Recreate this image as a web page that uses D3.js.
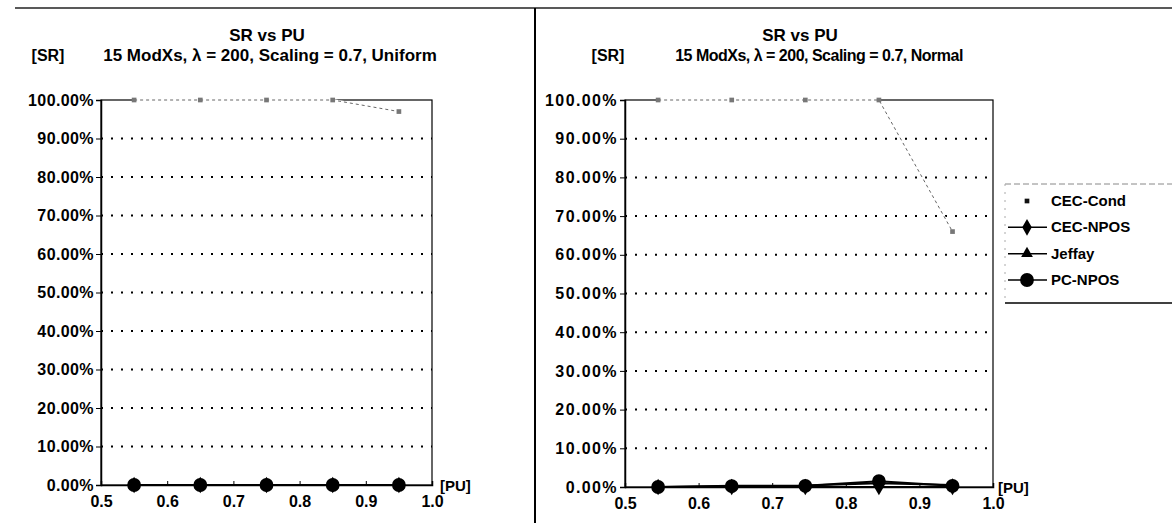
<!DOCTYPE html>
<html>
<head>
<meta charset="utf-8">
<script src="https://cdn.jsdelivr.net/npm/d3@7"></script>
<style>
  html, body { margin: 0; padding: 0; background: #fff; }
  svg { display: block; font-family: Arial, "Liberation Sans", sans-serif; font-weight: bold; }
</style>
</head>
<body>
<svg id="chart" width="1172" height="523"></svg>
<script>
// ---- data ----
const seriesNames = ["CEC-Cond", "CEC-NPOS", "Jeffay", "PC-NPOS"];
const xTicks = [0.5, 0.6, 0.7, 0.8, 0.9, 1.0];
const yTicks = [0, 10, 20, 30, 40, 50, 60, 70, 80, 90, 100];

// Uniform distribution run
const puUniform = [0.55, 0.65, 0.75, 0.85, 0.95];
const cecCondUniform = [100, 100, 100, 100, 97];
const cecNposUniform = [0, 0, 0, 0, 0];
const jeffayUniform = [0, 0, 0, 0, 0];
const pcNposUniform = [0, 0, 0, 0, 0];

// Normal distribution run
const puNormal = [0.545, 0.645, 0.745, 0.845, 0.945];
const cecCondNormal = [100, 100, 100, 100, 66];
const cecNposNormal = [0, 0, 0, 0, 0];
const jeffayNormal = [0, 0.3, 0.4, 1.0, 0.5];
const pcNposNormal = [0, 0.2, 0.3, 1.5, 0.3];

const svg = d3.select("#chart");
const FONT = "Arial, 'Liberation Sans', sans-serif";

// page frame: top rule and the divider between the two charts
svg.append("line").attr("x1", 15).attr("x2", 1172).attr("y1", 8).attr("y2", 8)
  .attr("stroke", "#222").attr("stroke-width", 1.5);
svg.append("line").attr("x1", 535).attr("x2", 535).attr("y1", 8).attr("y2", 523)
  .attr("stroke", "#000").attr("stroke-width", 2);

function markerPath(type, size) {
  const sym = {
    "square": d3.symbolSquare,
    "diamond": d3.symbolDiamond,
    "triangle": d3.symbolTriangle,
    "circle": d3.symbolCircle
  }[type];
  return d3.symbol().type(sym).size(size)();
}

const styles = {
  "CEC-Cond": { color: "#666", dash: "3,3", width: 1, marker: "square", size: 22, fill: "#777" },
  "CEC-NPOS": { color: "#000", dash: null, width: 2, marker: "diamond", size: 80, fill: "#000" },
  "Jeffay":   { color: "#000", dash: null, width: 2, marker: "triangle", size: 60, fill: "#000" },
  "PC-NPOS":  { color: "#000", dash: null, width: 2, marker: "circle", size: 150, fill: "#000" }
};

function drawPanel(p) {
  const g = svg.append("g");
  const x = d3.scaleLinear().domain([0.5, 1.0]).range([p.left, p.right]);
  const y = d3.scaleLinear().domain([0, 100]).range([p.bottom, p.top]);

  // titles
  g.append("text").attr("x", p.titleX).attr("y", 41).attr("text-anchor", "middle")
    .attr("font-size", 17).text("SR vs PU");
  g.append("text").attr("x", p.subX).attr("y", 61).attr("text-anchor", "middle")
    .attr("font-size", p.subSize).attr("letter-spacing", p.subSpacing).text(p.subtitle);
  g.append("text").attr("x", p.srX).attr("y", 61).attr("text-anchor", "middle")
    .attr("font-size", 16).text("[SR]");

  // dotted gridlines
  g.append("g").selectAll("line").data(yTicks.filter(v => v > 0 && v < 100)).join("line")
    .attr("x1", p.left).attr("x2", p.right)
    .attr("y1", d => y(d)).attr("y2", d => y(d))
    .attr("stroke", "#000").attr("stroke-width", 2).attr("stroke-dasharray", "2,8");

  // plot frame
  g.append("rect").attr("x", p.left).attr("y", p.top)
    .attr("width", p.right - p.left).attr("height", p.bottom - p.top)
    .attr("fill", "none").attr("stroke", "#000").attr("stroke-width", 1.2);

  // axes
  const yAxis = d3.axisLeft(y).tickValues(yTicks).tickSize(5)
    .tickFormat(d => d3.format(".2f")(d) + "%");
  const ya = g.append("g").attr("transform", `translate(${p.left},0)`).call(yAxis);
  ya.select(".domain").attr("stroke-width", 1.5);
  ya.selectAll("text").attr("font-size", p.ySize).attr("font-weight", "bold")
    .attr("letter-spacing", p.ySpacing)
    .attr("font-family", FONT).attr("x", -7).attr("fill", "#000");

  const xAxis = d3.axisBottom(x).tickValues(xTicks).tickSize(-4).tickPadding(11)
    .tickFormat(d3.format(".1f"));
  const xa = g.append("g").attr("transform", `translate(0,${p.bottom})`).call(xAxis);
  xa.select(".domain").attr("stroke-width", 1.5);
  xa.selectAll("text").attr("font-size", 16).attr("font-weight", "bold")
    .attr("font-family", FONT).attr("fill", "#000");

  g.append("text").attr("x", p.puX).attr("y", p.bottom + 6).attr("font-size", 15).text("[PU]");

  // series: drawn back to front so the circles sit on top
  seriesNames.forEach(name => {
    const s = styles[name];
    const vals = p.series[name];
    const pts = p.pu.map((v, i) => [v, vals[i]]);
    const line = d3.line().x(d => x(d[0])).y(d => y(d[1]));
    if (name === "CEC-Cond") {
      g.append("path").attr("d", line(pts)).attr("fill", "none")
        .attr("stroke", "#fff").attr("stroke-width", 2.2);
    }
    const path = g.append("path").attr("d", line(pts)).attr("fill", "none")
      .attr("stroke", s.color).attr("stroke-width", s.width);
    if (s.dash) path.attr("stroke-dasharray", s.dash);
    g.append("g").selectAll("path").data(pts).join("path")
      .attr("transform", d => `translate(${x(d[0])},${y(d[1])})`)
      .attr("d", markerPath(s.marker, s.size))
      .attr("fill", s.fill);
  });
}

drawPanel({
  left: 101, right: 432, top: 100, bottom: 485,
  titleX: 267, subX: 270, srX: 48, puX: 440,
  subSize: 17, subSpacing: 0, ySize: 16, ySpacing: 0.4,
  subtitle: "15 ModXs, \u03bb = 200, Scaling = 0.7, Uniform",
  pu: puUniform,
  series: { "CEC-Cond": cecCondUniform, "CEC-NPOS": cecNposUniform, "Jeffay": jeffayUniform, "PC-NPOS": pcNposUniform }
});

drawPanel({
  left: 625, right: 993, top: 100, bottom: 487,
  titleX: 800, subX: 819, srX: 608, puX: 998,
  subSize: 16, subSpacing: -0.5, ySize: 16, ySpacing: 1.4,
  subtitle: "15 ModXs, \u03bb = 200, Scaling = 0.7, Normal",
  pu: puNormal,
  series: { "CEC-Cond": cecCondNormal, "CEC-NPOS": cecNposNormal, "Jeffay": jeffayNormal, "PC-NPOS": pcNposNormal }
});

// legend
const legend = svg.append("g");
legend.append("line").attr("x1", 1005).attr("x2", 1172).attr("y1", 184).attr("y2", 184)
  .attr("stroke", "#888").attr("stroke-width", 1).attr("stroke-dasharray", "6,3");
legend.append("line").attr("x1", 1005).attr("x2", 1005).attr("y1", 184).attr("y2", 302)
  .attr("stroke", "#aaa").attr("stroke-width", 1).attr("stroke-dasharray", "2,6");
legend.append("line").attr("x1", 1005).attr("x2", 1172).attr("y1", 303).attr("y2", 303)
  .attr("stroke", "#000").attr("stroke-width", 1.5);

const legendY = d3.scalePoint().domain(seriesNames).range([201, 280]);
seriesNames.forEach(name => {
  const s = styles[name];
  const yy = legendY(name);
  const gi = legend.append("g");
  if (name !== "CEC-Cond") {
    gi.append("line").attr("x1", 1008).attr("x2", 1047).attr("y1", yy).attr("y2", yy)
      .attr("stroke", "#000").attr("stroke-width", 1.5);
  }
  gi.append("path").attr("transform", `translate(1027,${yy})`)
    .attr("d", markerPath(s.marker, name === "CEC-Cond" ? 22 : s.size))
    .attr("fill", name === "CEC-Cond" ? "#111" : s.fill);
  gi.append("text").attr("x", 1051).attr("y", yy + 5).attr("font-size", 15).text(name);
});
</script>
</body>
</html>
